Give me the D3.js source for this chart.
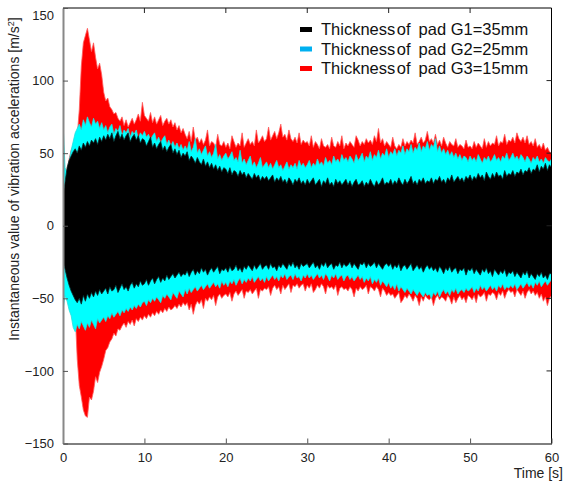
<!DOCTYPE html>
<html>
<head>
<meta charset="utf-8">
<script src="https://cdn.jsdelivr.net/npm/d3@7"></script>
<style>
  html, body { margin: 0; padding: 0; background: #fff; }
  svg { display: block; font-family: Arial, "Liberation Sans", sans-serif; }
</style>
</head>
<body>
<svg id="chart" width="565" height="482"></svg>
<script>
// Peak readings are stored every 0.25 s from 0 to 60 s (20 readings per row = 5 s)
const sampleStep = 0.25;

// Pad G1 = 35 mm: upper and lower peaks of the acceleration [m/s2]
const g1Upper = [
  21,30,40,45,48,51,53,50,55,52,57,54,58,55,59,57,60,56,61,58,
  62,59,63,60,64,58,62,65,60,63,59,62,64,58,61,63,59,62,57,60,
  59,55,58,61,54,57,53,56,58,52,55,51,54,56,50,53,49,52,47,50,
  48,51,45,48,46,43,47,44,42,46,41,44,40,43,39,42,38,41,37,40,
  39,36,40,35,38,37,34,38,35,37,33,36,34,32,36,33,35,31,34,32,
  34,31,33,35,30,33,31,34,30,32,29,33,31,28,32,30,33,29,31,28,
  32,29,31,33,28,30,32,27,31,29,33,28,30,27,32,29,31,28,30,32,
  28,31,27,30,32,28,29,31,27,30,28,32,29,27,31,28,30,33,28,30,
  29,32,28,31,29,33,30,28,32,29,31,34,29,31,28,32,30,33,29,31,
  30,33,29,32,31,34,30,32,29,33,31,35,30,32,34,31,33,30,34,32,
  35,31,34,32,36,33,35,31,37,34,32,36,33,37,34,35,32,38,34,36,
  35,38,34,37,36,39,35,38,37,40,36,39,38,42,37,41,39,43,38,42,
  40];
const g1Lower = [
  -25,-30,-36,-41,-45,-48,-51,-53,-50,-54,-48,-52,-47,-50,-46,-49,-45,-48,-44,-47,
  -45,-43,-47,-42,-45,-44,-41,-46,-43,-40,-44,-42,-45,-41,-39,-43,-40,-42,-38,-41,
  -40,-37,-41,-38,-36,-40,-37,-35,-39,-36,-38,-34,-37,-35,-33,-36,-34,-32,-35,-33,
  -34,-31,-35,-32,-30,-34,-31,-33,-29,-32,-30,-34,-31,-29,-32,-30,-28,-33,-30,-31,
  -29,-32,-28,-31,-30,-27,-31,-29,-32,-28,-30,-27,-29,-31,-27,-30,-28,-26,-30,-28,
  -27,-30,-26,-29,-28,-31,-27,-29,-26,-28,-30,-26,-28,-25,-29,-27,-30,-26,-28,-27,
  -26,-29,-27,-25,-29,-27,-30,-26,-28,-25,-29,-27,-26,-30,-27,-28,-25,-29,-26,-28,
  -27,-25,-29,-26,-28,-30,-26,-27,-25,-29,-26,-28,-27,-25,-29,-26,-28,-30,-27,-26,
  -28,-26,-30,-27,-29,-26,-31,-28,-27,-30,-28,-26,-31,-29,-27,-30,-28,-32,-29,-27,
  -30,-28,-31,-29,-32,-28,-30,-33,-29,-31,-28,-32,-30,-29,-33,-30,-31,-29,-34,-30,
  -31,-29,-33,-30,-32,-34,-30,-32,-29,-33,-31,-35,-30,-32,-34,-31,-33,-30,-35,-32,
  -33,-31,-35,-32,-34,-36,-32,-34,-31,-36,-33,-35,-37,-33,-35,-32,-36,-34,-37,-33,
  -33];

// Pad G2 = 25 mm
const g2Upper = [
  72,40,36,44,52,58,64,67,70,66,73,69,75,71,68,74,70,72,67,71,
  66,69,64,68,70,63,67,65,69,62,66,64,67,61,65,63,66,60,64,62,
  65,61,63,59,62,64,58,61,57,60,62,56,59,55,58,54,57,53,56,52,
  55,52,58,51,54,60,50,53,49,52,55,48,51,47,50,56,46,49,45,48,
  50,46,48,51,45,47,44,52,43,46,42,45,48,41,44,40,43,47,40,42,
  44,40,43,39,42,45,40,42,38,41,44,39,42,40,43,39,45,41,43,40,
  42,45,40,43,41,46,42,44,41,47,43,45,42,48,44,46,43,49,45,47,
  44,48,46,43,49,45,47,50,44,48,46,51,45,49,47,52,46,50,48,53,
  47,51,49,53,48,52,50,55,49,53,51,56,50,54,52,57,51,55,53,58,
  52,56,54,60,51,55,50,53,49,52,48,51,47,50,46,49,45,48,47,44,
  48,45,47,44,49,46,43,47,45,48,44,46,49,45,47,44,48,46,50,45,
  47,50,46,48,45,49,47,44,48,46,43,47,45,48,44,46,43,47,45,44,
  46];
const g2Lower = [
  -58,-48,-52,-58,-62,-70,-73,-68,-71,-66,-69,-72,-67,-70,-65,-68,-71,-64,-67,-65,
  -63,-66,-62,-64,-60,-63,-61,-59,-62,-58,-60,-57,-59,-56,-58,-55,-57,-54,-56,-53,
  -52,-55,-51,-53,-50,-52,-49,-51,-53,-48,-50,-47,-49,-51,-46,-48,-50,-45,-47,-49,
  -44,-47,-43,-46,-44,-42,-45,-43,-41,-44,-42,-40,-43,-41,-39,-42,-40,-43,-38,-41,
  -39,-42,-38,-40,-37,-41,-38,-36,-40,-37,-39,-36,-38,-35,-39,-37,-35,-38,-36,-39,
  -35,-38,-36,-34,-37,-35,-38,-34,-36,-33,-37,-35,-34,-37,-33,-36,-35,-38,-34,-36,
  -33,-36,-34,-37,-35,-33,-36,-34,-37,-33,-35,-38,-34,-36,-33,-37,-35,-34,-38,-35,
  -34,-37,-35,-38,-36,-34,-37,-35,-39,-36,-38,-35,-40,-37,-39,-36,-41,-38,-40,-42,
  -39,-43,-41,-44,-40,-45,-42,-44,-46,-43,-45,-47,-44,-46,-48,-45,-47,-49,-46,-48,
  -47,-50,-46,-48,-45,-49,-46,-44,-47,-45,-48,-44,-46,-43,-47,-45,-44,-46,-43,-45,
  -44,-42,-46,-43,-45,-41,-44,-42,-45,-43,-41,-44,-42,-45,-41,-43,-40,-44,-42,-43,
  -41,-43,-40,-44,-42,-40,-43,-41,-39,-42,-40,-43,-39,-41,-38,-42,-40,-38,-41,-39,
  -37];

// Pad G3 = 15 mm
const g3Upper = [
  20,30,38,46,52,55,58,62,80,110,126,131,136,128,120,126,116,108,112,104,
  92,86,88,82,80,77,78,74,72,75,69,73,68,71,74,70,73,77,72,85,
  76,74,72,78,71,75,70,73,76,69,72,74,70,73,68,71,66,69,64,67,
  63,60,65,58,68,59,61,57,60,56,59,66,55,58,57,54,63,56,55,58,
  54,57,53,62,58,54,57,55,64,54,57,60,56,58,55,66,57,59,62,58,
  60,68,59,62,65,60,64,70,61,63,59,66,60,58,61,57,64,56,59,57,
  58,55,62,54,58,56,53,60,55,54,56,53,61,55,54,58,55,62,53,57,
  55,58,56,54,62,59,55,58,56,60,57,59,56,62,58,67,57,60,55,58,
  56,54,61,55,53,56,54,60,55,58,56,59,57,64,56,58,61,57,59,65,
  58,60,57,63,56,59,55,61,57,54,58,56,55,60,54,56,55,53,59,54,
  55,53,58,54,57,55,53,60,54,58,55,57,56,62,55,58,57,63,56,59,
  58,61,57,64,60,58,61,57,62,56,58,55,60,54,56,53,57,52,54,51,
  50];
const g3Lower = [
  -20,-28,-35,-42,-50,-55,-60,-92,-110,-118,-127,-131,-132,-118,-120,-114,-104,-108,-101,-97,
  -92,-86,-84,-80,-78,-74,-76,-71,-72,-69,-67,-70,-66,-68,-65,-69,-64,-66,-63,-65,
  -62,-64,-61,-63,-60,-62,-59,-61,-58,-60,-57,-59,-56,-58,-57,-55,-57,-54,-56,-53,
  -55,-53,-58,-54,-61,-55,-52,-54,-51,-57,-50,-52,-49,-51,-48,-55,-49,-47,-50,-48,
  -47,-49,-46,-52,-47,-45,-48,-46,-44,-50,-45,-46,-44,-47,-45,-43,-50,-44,-45,-43,
  -44,-42,-48,-43,-41,-44,-42,-47,-41,-44,-42,-40,-46,-41,-42,-40,-43,-41,-40,-45,
  -41,-43,-40,-46,-44,-41,-43,-40,-42,-47,-41,-43,-42,-44,-41,-48,-43,-42,-44,-43,
  -45,-42,-44,-49,-43,-45,-42,-44,-43,-41,-47,-42,-43,-45,-42,-44,-49,-43,-45,-48,
  -46,-48,-47,-50,-48,-46,-53,-51,-48,-50,-47,-49,-52,-48,-50,-55,-49,-52,-48,-50,
  -51,-49,-55,-50,-48,-51,-49,-50,-52,-48,-50,-54,-49,-53,-50,-48,-51,-49,-53,-48,
  -49,-51,-48,-53,-47,-49,-48,-46,-52,-47,-48,-46,-47,-51,-46,-48,-45,-50,-46,-44,
  -46,-45,-49,-44,-46,-48,-45,-50,-46,-44,-47,-45,-48,-46,-50,-47,-52,-49,-55,-50,
  -48];

const seriesLabels = ["G1=35mm", "G2=25mm", "G3=15mm"];
const seriesColors = ["#000000", "#00ffff", "#ff0000"];
const edgeColors = ["#0b2b2b", "#22e0e0", "#ff5a5a"];
const legendColors = ["#000000", "#00b0f0", "#ff0000"];
const xTicks = [0, 10, 20, 30, 40, 50, 60];
const yTicks = [-150, -100, -50, 0, 50, 100, 150];

const svg = d3.select("#chart");
const plotLeft = 63, plotRight = 551.5, plotTop = 8, plotBottom = 443.5;

const x = d3.scaleLinear().domain([0, 60]).range([plotLeft, plotRight]);
const y = d3.scaleLinear().domain([-150, 150]).range([plotBottom, plotTop]);

svg.append("defs").append("clipPath").attr("id", "plotClip")
  .append("rect").attr("x", plotLeft).attr("y", plotTop)
  .attr("width", plotRight - plotLeft).attr("height", plotBottom - plotTop);

// Envelopes drawn back to front: G3 (widest), G2, then G1 on top
const series = [
  { upper: g3Upper, lower: g3Lower, k: 2 },
  { upper: g2Upper, lower: g2Lower, k: 1 },
  { upper: g1Upper, lower: g1Lower, k: 0 }
];

const plot = svg.append("g").attr("clip-path", "url(#plotClip)");
series.forEach(s => {
  const rows = s.upper.map((u, i) => ({ t: i * sampleStep, hi: u, lo: s.lower[i] }));
  const area = d3.area()
    .x(d => x(d.t))
    .y0(d => y(d.lo))
    .y1(d => y(d.hi))
    .curve(d3.curveLinear);
  plot.append("path").datum(rows)
    .attr("d", area)
    .attr("fill", seriesColors[s.k])
    .attr("stroke", edgeColors[s.k])
    .attr("stroke-width", 0.8)
    .attr("stroke-linejoin", "miter");
});

// Frame
svg.append("line").attr("x1", plotLeft).attr("x2", plotRight).attr("y1", plotTop).attr("y2", plotTop)
  .attr("stroke", "#000").attr("stroke-width", 1);
svg.append("line").attr("x1", plotRight).attr("x2", plotRight).attr("y1", plotTop).attr("y2", plotBottom)
  .attr("stroke", "#000").attr("stroke-width", 1);

// Bottom axis with inward ticks
const xAxis = svg.append("g").attr("transform", `translate(0,${plotBottom})`)
  .call(d3.axisBottom(x).tickValues(xTicks).tickSizeInner(-5).tickSizeOuter(0).tickPadding(9));
xAxis.select(".domain").attr("stroke", "#000");
xAxis.selectAll(".tick line").attr("stroke", "#555");
xAxis.selectAll("text").attr("font-size", 13).attr("fill", "#222")
  .attr("font-family", "Arial, 'Liberation Sans', sans-serif");

// Left axis with inward ticks
const yAxis = svg.append("g").attr("transform", `translate(${plotLeft},0)`)
  .call(d3.axisLeft(y).tickValues(yTicks).tickSizeInner(-5).tickSizeOuter(0).tickPadding(9));
yAxis.select(".domain").attr("stroke", "#888").attr("stroke-width", 2);
yAxis.selectAll(".tick line").attr("stroke", "#555");
yAxis.selectAll("text").attr("font-size", 13).attr("fill", "#222")
  .attr("font-family", "Arial, 'Liberation Sans', sans-serif")
  .attr("dy", d => d === 150 ? "0.9em" : "0.32em");

// Mirrored ticks on the top and right edges
svg.append("g").selectAll("line").data(xTicks.slice(1, -1)).join("line")
  .attr("x1", d => x(d)).attr("x2", d => x(d)).attr("y1", plotTop).attr("y2", plotTop + 5)
  .attr("stroke", "#222");
svg.append("g").selectAll("line").data(yTicks.slice(1, -1)).join("line")
  .attr("x1", plotRight - 5).attr("x2", plotRight).attr("y1", d => y(d)).attr("y2", d => y(d))
  .attr("stroke", "#222");

// Axis titles
svg.append("text").attr("x", 563).attr("y", 478).attr("text-anchor", "end")
  .attr("font-size", 14).attr("fill", "#222").text("Time [s]");

const yTitle = svg.append("text")
  .attr("transform", "translate(19,179) rotate(-90)")
  .attr("text-anchor", "middle").attr("font-size", 14).attr("fill", "#222");
yTitle.append("tspan").text("Instantaneous value of vibration accelerations [m/s");
yTitle.append("tspan").attr("font-size", 9).attr("dy", -5).text("2");
yTitle.append("tspan").attr("dy", 5).text("]");

// Legend
const legend = svg.append("g");
seriesLabels.forEach((label, i) => {
  const cy = 29.5 + i * 19.5;
  legend.append("line").attr("x1", 300).attr("x2", 312).attr("y1", cy).attr("y2", cy)
    .attr("stroke", legendColors[i]).attr("stroke-width", 5);
  const t = legend.append("text").attr("x", 321).attr("y", cy).attr("dy", "0.35em")
    .attr("font-size", 16.5).attr("fill", "#111");
  t.append("tspan").text("Thickness");
  t.append("tspan").attr("dx", 1.5).text("of");
  t.append("tspan").attr("dx", 8).text("pad " + label);
});
</script>
</body>
</html>
